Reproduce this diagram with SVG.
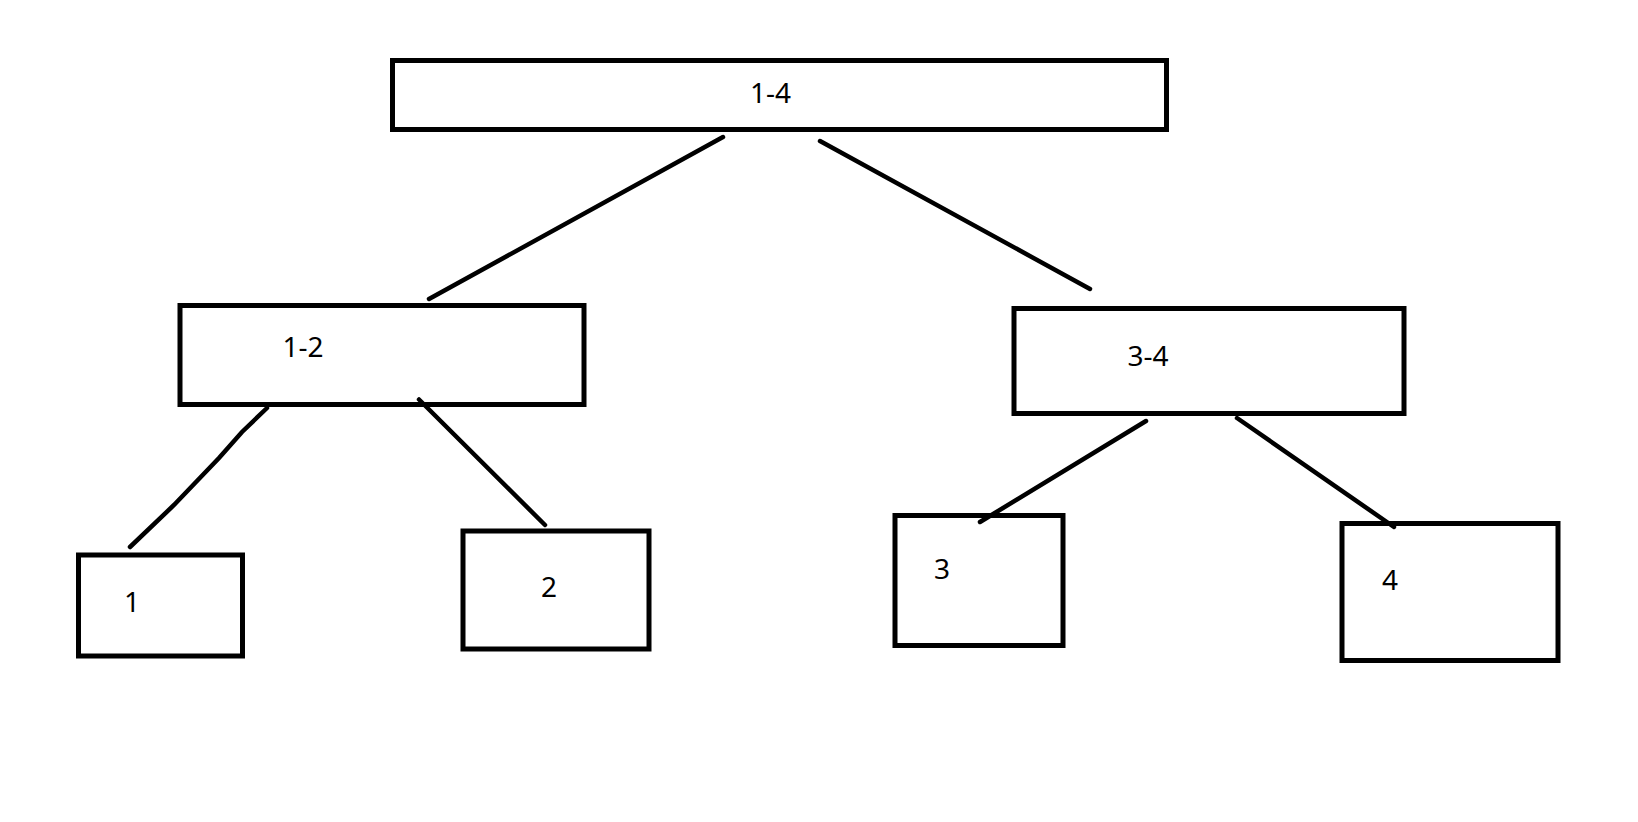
<svg xmlns="http://www.w3.org/2000/svg" width="1638" height="822" viewBox="0 0 1638 822">
  <style>
    .box { fill: #ffffff; stroke: #000000; stroke-width: 5; }
    .lbl { font-family: "Noto Sans", "Open Sans", "Liberation Sans", sans-serif; font-size: 28px; fill: #000000; text-anchor: middle; }
    .edge { stroke: #000000; stroke-width: 4.5; stroke-linecap: round; fill: none; }
  </style>
  <rect x="0" y="0" width="1638" height="822" fill="#ffffff"/>
  <g id="node-1-4">
    <rect class="box" x="392.5" y="60.5" width="774" height="69"/>
    <text class="lbl" x="770.5" y="103">1-4</text>
  </g>
  <g id="node-1-2">
    <rect class="box" x="180" y="305.5" width="404" height="99"/>
    <text class="lbl" x="303" y="357">1-2</text>
  </g>
  <g id="node-3-4">
    <rect class="box" x="1014" y="308.5" width="390" height="105"/>
    <text class="lbl" x="1148" y="365.5">3-4</text>
  </g>
  <g id="node-1">
    <rect class="box" x="78.5" y="555" width="164" height="101"/>
    <text class="lbl" x="132" y="612">1</text>
  </g>
  <g id="node-2">
    <rect class="box" x="463" y="531" width="186" height="118"/>
    <text class="lbl" x="549" y="596.5">2</text>
  </g>
  <g id="node-3">
    <rect class="box" x="895" y="515.5" width="168" height="130"/>
    <text class="lbl" x="942" y="579">3</text>
  </g>
  <g id="node-4">
    <rect class="box" x="1342" y="523.5" width="216" height="137"/>
    <text class="lbl" x="1390" y="590">4</text>
  </g>
  <g id="connectors">
    <line class="edge" x1="723" y1="137" x2="429" y2="299"/>
    <line class="edge" x1="820" y1="141" x2="1090" y2="289"/>
    <polyline class="edge" points="267,408 242,432 219,458 196,482 174,505 130,547"/>
    <line class="edge" x1="419" y1="399.5" x2="545" y2="525"/>
    <line class="edge" x1="1146" y1="421" x2="980" y2="522"/>
    <line class="edge" x1="1237" y1="418" x2="1394" y2="527"/>
  </g>
</svg>
